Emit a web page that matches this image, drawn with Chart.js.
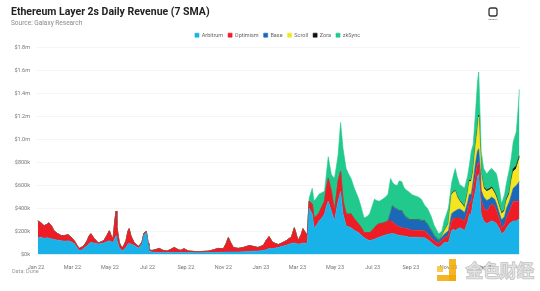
<!DOCTYPE html>
<html>
<head>
<meta charset="utf-8">
<script src="https://cdn.jsdelivr.net/npm/chart.js@4.4.1/dist/chart.umd.min.js"></script>
<style>
html,body{margin:0;padding:0;background:#fff;}
#wrap{width:540px;height:291px;position:relative;}
</style>
</head>
<body>
<div id="wrap"><canvas id="c1"></canvas></div>
<script>
// 7 day SMA of daily revenue, $k
var dates=['2022-01-04','2022-01-09','2022-01-14','2022-01-19','2022-01-22','2022-01-27','2022-01-30','2022-02-04','2022-02-11','2022-02-17',
'2022-02-22','2022-02-27','2022-03-04','2022-03-09','2022-03-12','2022-03-17','2022-03-20','2022-03-25','2022-03-28','2022-03-31',
'2022-04-05','2022-04-12','2022-04-17','2022-04-21','2022-04-26','2022-04-30','2022-05-03','2022-05-06','2022-05-09','2022-05-11',
'2022-05-12','2022-05-16','2022-05-19','2022-05-22','2022-05-27','2022-05-30','2022-06-01','2022-06-04','2022-06-09','2022-06-14',
'2022-06-17','2022-06-22','2022-06-25','2022-06-29','2022-07-02','2022-07-03','2022-07-08','2022-07-13','2022-07-20','2022-07-26',
'2022-08-02','2022-08-08','2022-08-13','2022-08-20','2022-08-24','2022-08-29','2022-09-05','2022-09-13','2022-09-21','2022-09-29',
'2022-10-07','2022-10-15','2022-10-23','2022-11-01','2022-11-05','2022-11-09','2022-11-12','2022-11-17','2022-11-25','2022-12-03',
'2022-12-13','2022-12-19','2022-12-27','2023-01-05','2023-01-09','2023-01-14','2023-01-19','2023-01-24','2023-01-29','2023-02-04',
'2023-02-11','2023-02-16','2023-02-19','2023-02-24','2023-03-02','2023-03-07','2023-03-10','2023-03-15','2023-03-17','2023-03-20',
'2023-03-25','2023-03-28','2023-04-02','2023-04-05','2023-04-10','2023-04-14','2023-04-17','2023-04-20','2023-04-25','2023-04-30',
'2023-05-03','2023-05-06','2023-05-10','2023-05-14','2023-05-19','2023-05-23','2023-05-27','2023-06-01','2023-06-08','2023-06-13',
'2023-06-17','2023-06-22','2023-06-26','2023-06-29','2023-07-04','2023-07-07','2023-07-12','2023-07-17','2023-07-22','2023-07-26',
'2023-07-30','2023-08-02','2023-08-05','2023-08-10','2023-08-13','2023-08-17','2023-08-21','2023-08-25','2023-08-30','2023-09-03',
'2023-09-08','2023-09-13','2023-09-18','2023-09-23','2023-09-28','2023-10-04','2023-10-09','2023-10-16','2023-10-21','2023-10-25',
'2023-11-01','2023-11-06','2023-11-09','2023-11-12','2023-11-15','2023-11-19','2023-11-24','2023-11-27','2023-12-02','2023-12-05',
'2023-12-08','2023-12-11','2023-12-15','2023-12-18','2023-12-20','2023-12-23','2023-12-24','2023-12-28','2024-01-02','2024-01-06',
'2024-01-10','2024-01-15','2024-01-18','2024-01-23','2024-01-26','2024-01-31','2024-02-03','2024-02-08','2024-02-11','2024-02-14',
'2024-02-19','2024-02-22','2024-02-24'];

var arbitrum=[146,150,140,145,140,135,130,125,120,115, 118,110,95,55,34,40,55,75,95,103,
100,90,95,100,110,120,110,105,140,163, 130,60,40,34,60,90,95,90,80,60,
55,90,170,190,80,30,20,18,17,17, 16,16,17,16,16,17,16,15,15,15,
16,16,18,18,20,22,22,22,22,24, 26,28,30,35,40,52,50,55,60,70,
80,90,95,100,90,92,100,95,100,404, 353,232,260,292,320,353,420,464,378,292,
380,464,550,353,249,240,232,210,190,165, 146,130,120,125,130,140,150,160,170,175,
180,180,180,170,165,163,160,155,150,150, 150,148,146,146,130,103,80,60,80,103,
103,206,220,206,220,232,220,206,280,353, 353,464,560,680,700,464,350,292,267,280,
292,280,267,220,180,200,230,267,280,292, 292,300,318];

var optimism=[146,125,110,117,135,105,76,60,43,50, 54,40,25,20,18,25,22,45,65,77,
40,10,15,20,55,86,50,33,160,215, 120,43,30,26,60,110,129,70,23,20,
14,20,15,10,15,10,14,22,35,18, 14,29,43,24,19,33,14,11,9,11,
12,22,34,32,70,124,88,38,30,36, 51,42,30,45,80,103,60,40,26,30,
40,50,51,132,30,78,124,85,70,60, 86,86,80,69,100,111,160,198,172,86,
120,172,172,111,104,110,121,100,77,65, 44,60,70,75,102,110,117,110,110,117,
112,110,87,80,75,69,70,70,65,60, 60,62,60,60,50,43,40,35,40,43,
60,86,90,112,98,86,80,86,100,94, 111,112,140,110,110,136,130,112,111,130,
147,140,111,80,52,60,90,111,140,172, 172,164,146];

var base=[0,0,0,0,0,0,0,0,0,0, 0,0,0,0,0,0,0,0,0,0,
0,0,0,0,0,0,0,0,0,0, 0,0,0,0,0,0,0,0,0,0,
0,0,0,0,0,0,0,0,0,0, 0,0,0,0,0,0,0,0,0,0,
0,0,0,0,0,0,0,0,0,0, 0,0,0,0,0,0,0,0,0,0,
0,0,0,0,0,0,0,0,0,0, 0,0,0,0,0,0,0,0,0,0,
0,0,0,0,0,0,0,0,0,0, 0,0,0,0,0,0,0,0,0,0,
68,130,137,140,140,146,110,93,85,90, 90,90,86,86,80,60,40,25,30,29,
43,61,60,60,72,78,80,69,70,78, 61,60,100,110,110,100,80,96,92,70,
61,60,62,50,68,70,80,86,100,112, 136,156,172];

var scroll=[0,0,0,0,0,0,0,0,0,0, 0,0,0,0,0,0,0,0,0,0,
0,0,0,0,0,0,0,0,0,0, 0,0,0,0,0,0,0,0,0,0,
0,0,0,0,0,0,0,0,0,0, 0,0,0,0,0,0,0,0,0,0,
0,0,0,0,0,0,0,0,0,0, 0,0,0,0,0,0,0,0,0,0,
0,0,0,0,0,0,0,0,0,0, 0,0,0,0,0,0,0,0,0,0,
0,0,0,0,0,0,0,0,0,0, 0,0,0,0,0,0,0,0,0,0,
0,0,0,0,0,0,0,0,0,0, 0,0,0,0,0,0,0,0,5,25,
61,167,170,172,110,68,50,43,80,111, 111,86,150,180,280,150,140,76,80,80,
76,50,50,50,53,50,70,66,120,146, 148,180,199];

var zora=[0,0,0,0,0,0,0,0,0,0, 0,0,0,0,0,0,0,0,0,0,
0,0,0,0,0,0,0,0,0,0, 0,0,0,0,0,0,0,0,0,0,
0,0,0,0,0,0,0,0,0,0, 0,0,0,0,0,0,0,0,0,0,
0,0,0,0,0,0,0,0,0,0, 0,0,0,0,0,0,0,0,0,0,
0,0,0,0,0,0,0,0,0,0, 0,0,0,0,0,0,0,0,0,0,
0,0,0,0,0,0,0,0,0,0, 0,0,0,0,2,2,2,2,2,2,
3,3,3,3,3,4,4,4,4,4, 4,4,4,4,3,3,3,3,3,3,
5,6,6,6,6,6,8,8,8,10, 10,10,15,15,15,12,12,12,12,12,
12,12,12,10,10,10,12,15,20,25, 25,25,25];

var zksync=[0,0,0,0,0,0,0,0,0,0, 0,0,0,0,0,0,0,0,0,0,
0,0,0,0,0,0,0,0,0,0, 0,0,0,0,0,0,0,0,0,0,
0,0,0,0,0,0,0,0,0,0, 0,0,0,0,0,0,0,0,0,0,
0,0,0,0,0,0,0,0,0,0, 0,0,0,0,0,0,0,0,0,0,
0,0,0,0,0,0,0,0,0,26, 137,146,160,164,120,86,120,189,147,284,
260,232,428,456,395,350,309,270,223,170, 128,140,163,200,248,218,195,208,218,231,
299,207,203,207,257,254,236,238,236,216, 206,196,184,134,137,121,87,57,42,89,
132,94,144,192,174,140,152,164,142,136, 254,223,285,405,375,238,188,162,138,158,
162,178,198,150,76,135,138,204,190,233, 297,445,580];

var names=['Arbitrum','Optimism','Base','Scroll','Zora','zkSync'];
var colors=['#18b2e8','#ee1d25','#1a68b8','#f4e521','#111111','#22c98c'];

var tickDates=['2022-01-01','2022-03-01','2022-05-01','2022-07-01','2022-09-01','2022-11-01','2023-01-01',
'2023-03-01','2023-05-01','2023-07-01','2023-09-01','2023-11-01','2024-01-01'];
var tickLabels=['Jan 22','Mar 22','May 22','Jul 22','Sep 22','Nov 22','Jan 23',
'Mar 23','May 23','Jul 23','Sep 23','Nov 23','Jan 24'];

function dayNum(s){
return Math.round((Date.parse(s)-Date.parse('2022-01-01'))/86400000);
}

var tickDays=tickDates.map(dayNum);

function mkData(arr){
var out=[];
for (var i=0;i<dates.length;i++){out.push({x:dayNum(dates[i]),y:arr[i]});}
return out;
}

var series=[arbitrum,optimism,base,scroll,zora,zksync];
var datasets=[];
for (var k=0;k<series.length;k++){
datasets.push({
  label:names[k],
  data:mkData(series[k]),
  backgroundColor:colors[k],
  borderColor:colors[k],
  borderWidth:0.6,
  pointRadius:0,
  fill:(k==0)?'origin':'-1',
  tension:0
});
}

var fontFam="Roboto, 'Liberation Sans', sans-serif";

// extra texts: footer, logo, watermark
var extras={
id:'extras',
afterLayout:function(chart){
  // legend sits centred over the plot, not the canvas
  var lg=chart.legend;
  if (lg){lg.left+=12;lg.right+=12;}
},
afterDraw:function(chart){
  var ctx=chart.ctx;
  ctx.save();
  ctx.fillStyle='#9a9a9a';
  ctx.font="5.5px "+fontFam;
  ctx.textBaseline='middle';
  ctx.textAlign='left';
  ctx.fillText('Data: Dune',12,272);

  // galaxy mark top right
  ctx.strokeStyle='#333';
  ctx.lineWidth=1.3;
  ctx.beginPath();
  if (ctx.roundRect){ctx.roundRect(489,8,8,8,2);}else{ctx.rect(489,8,8,8);}
  ctx.stroke();
  ctx.fillStyle='#555';
  ctx.font="2.5px "+fontFam;
  ctx.textAlign='center';
  ctx.fillText('GALAXY',493,19.5);

  // watermark
  ctx.globalAlpha=0.85;
  ctx.fillStyle='#f2a900';
  ctx.fillRect(449,259,7,22);
  ctx.fillRect(437,275,19,6);
  ctx.fillStyle='#f7c33a';
  ctx.fillRect(437,266,6,6);
  ctx.font="17px 'Noto Sans CJK SC'";
  ctx.textAlign='left';
  ctx.lineWidth=2;
  ctx.strokeStyle='rgba(150,150,150,0.6)';
  ctx.strokeText('金色财经',466,271);
  ctx.fillStyle='rgba(235,235,235,0.95)';
  ctx.fillText('金色财经',466,271);
  ctx.restore();
}
};

var options={
  responsive:true,
  maintainAspectRatio:false,
  animation:false,
  layout:{padding:{left:11,right:20,top:0,bottom:18}},
  plugins:{
    title:{
      display:true,
      text:'Ethereum Layer 2s Daily Revenue (7 SMA)',
      align:'start',
      color:'#222',
      font:{family:fontFam,size:10.5,weight:'bold'},
      padding:{top:6,bottom:1}
    },
    subtitle:{
      display:true,
      text:'Source: Galaxy Research',
      align:'start',
      color:'#8a8a8a',
      font:{family:fontFam,size:6.5},
      padding:{top:0,bottom:0}
    },
    legend:{
      display:true,
      labels:{
        boxWidth:4,boxHeight:4,
        color:'#666',
        font:{family:fontFam,size:5.5},
        padding:5
      }
    },
    tooltip:{enabled:false}
  },
  scales:{
    x:{
      type:'linear',
      min:0,
      max:785,
      grid:{display:false},
      border:{display:false},
      afterBuildTicks:function(scale){
        scale.ticks=tickDays.map(function(v){return {value:v};});
      },
      ticks:{
        autoSkip:false,
        maxRotation:0,
        color:'#777',
        font:{family:fontFam,size:5.5},
        padding:2,
        callback:function(v){
          var i=tickDays.indexOf(v);
          return i>=0?tickLabels[i]:'';
        }
      }
    },
    y:{
      stacked:true,
      min:0,
      max:1800,
      afterFit:function(scale){scale.width=25;},
      grid:{color:'#eeeeee',lineWidth:0.6,drawTicks:false},
      border:{display:false},
      ticks:{
        stepSize:200,
        color:'#777',
        padding:6,
        font:{family:fontFam,size:5.5},
        callback:function(v){
          if (v<1000){return '$'+v+'k';}
          return '$'+(v/1000).toFixed(1)+'m';
        }
      }
    }
  }
};

var c=document.getElementById('c1');
var ctx=c.getContext('2d');
var l2Chart=new Chart(ctx,{
  type:'line',
  data:{datasets:datasets},
  options:options,
  plugins:[extras]
});
</script>
</body>
</html>
